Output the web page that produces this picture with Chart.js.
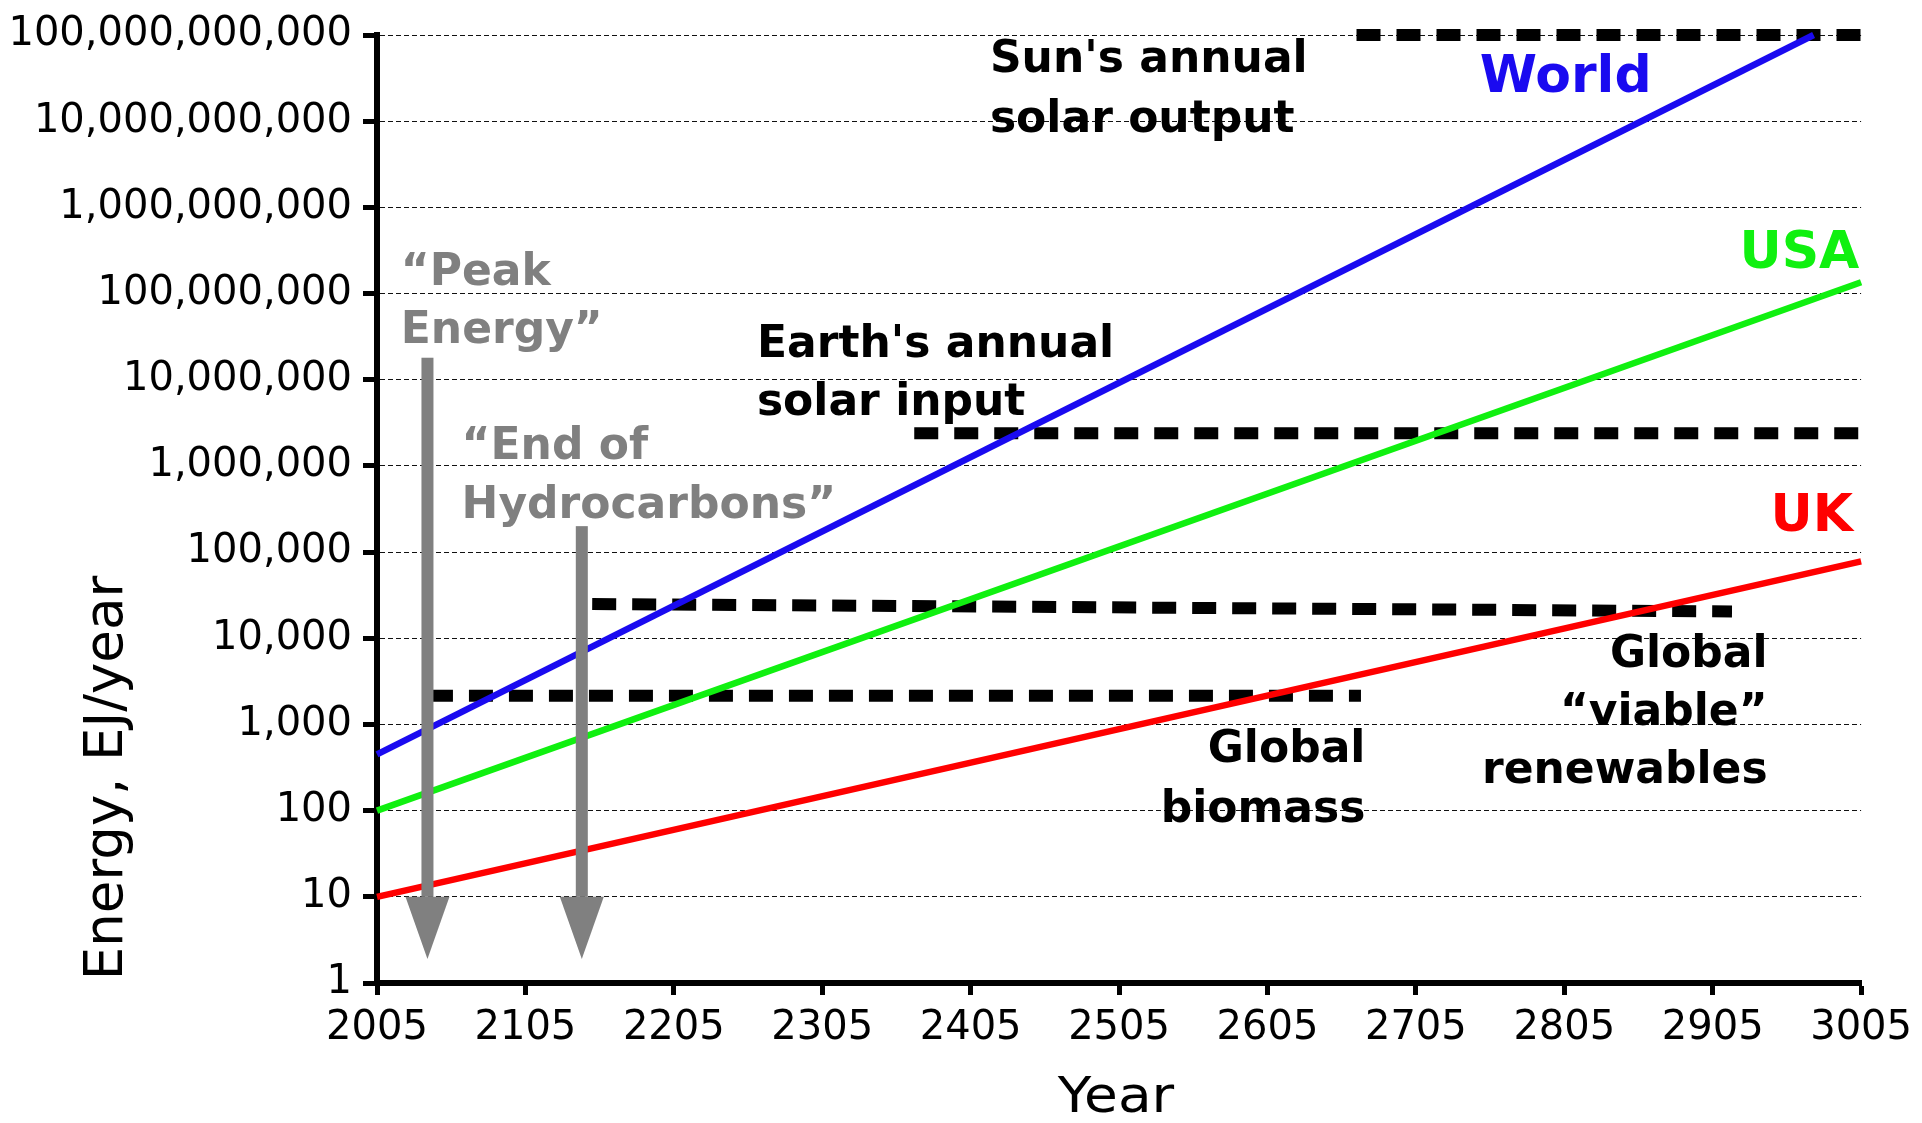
<!DOCTYPE html>
<html>
<head>
<meta charset="utf-8">
<title>Energy growth</title>
<script src="https://cdn.jsdelivr.net/npm/chart.js@4/dist/chart.umd.min.js"></script>
<style>
html, body { margin: 0; padding: 0; background: #fff; }
#grafico { display: block; }
</style>
</head>
<body>
<canvas id="grafico" width="1922" height="1123"></canvas>
<script>
// ======================================
// Energy use projections
// ======================================

// consumption lines (EJ/year)
const worldYears = [2005, 2973];
const worldEnergy = [450, 1e11];

const usaYears = [2005, 3005];
const usaEnergy = [100, 1.35e8];

const ukYears = [2005, 3005];
const ukEnergy = [10, 78000];

// reference levels (EJ/year)
const sunYears = [2665, 3005];
const sunOutput = [1e11, 1e11];

const earthYears = [2367, 3005];
const earthInput = [2.4e6, 2.4e6];

const renewYears = [2150, 2918];
const renewables = [25000, 20500];

const biomassYears = [2040, 2668];
const biomass = [2150, 2150];

// "Peak Energy" and "End of Hydrocarbons" arrows
const arrowYears = [2039, 2143];
const arrowFrom = [1.8e7, 2e5];
const arrowHead = [10, 10];
const arrowTip = [1.9, 1.9];

// axes
const xTicks = [2005, 2105, 2205, 2305, 2405, 2505, 2605, 2705, 2805, 2905, 3005];
const xTickLabels = ["2005", "2105", "2205", "2305", "2405", "2505", "2605", "2705", "2805", "2905", "3005"];
const yTicks = [1, 10, 100, 1e3, 1e4, 1e5, 1e6, 1e7, 1e8, 1e9, 1e10, 1e11];
const yTickLabels = [
"1",
"10",
"100",
"1,000",
"10,000",
"100,000",
"1,000,000",
"10,000,000",
"100,000,000",
"1,000,000,000",
"10,000,000,000",
"100,000,000,000"
];

function pontos(xs, ys) {
    return xs.map((x, i) => ({ x: x, y: ys[i] }));
}

// ======================================
// Text on the plot
// ======================================

const FONTE_NOTA = 'bold 44px "DejaVu Sans"';
const FONTE_SERIE = 'bold 52px "DejaVu Sans"';

const notas = [
{ linhas: ["Sun's annual", "solar output"], ano: 2418, valor: 3.7e10, alinhar: "left", cor: "#000", fonte: FONTE_NOTA, passo: 60 },
{ linhas: ["Earth's annual", "solar input"], ano: 2261, valor: 1.85e7, alinhar: "left", cor: "#000", fonte: FONTE_NOTA, passo: 58 },
{ linhas: ["Global", "biomass"], ano: 2671, valor: 370, alinhar: "right", cor: "#000", fonte: FONTE_NOTA, passo: 60 },
{ linhas: ["Global", "\u201cviable\u201d", "renewables"], ano: 2942, valor: 4600, alinhar: "right", cor: "#000", fonte: FONTE_NOTA, passo: 58 },
{ linhas: ["\u201cPeak", "Energy\u201d"], ano: 2021, valor: 1.25e8, alinhar: "left", cor: "#808080", fonte: FONTE_NOTA, passo: 58 },
{ linhas: ["\u201cEnd of", "Hydrocarbons\u201d"], ano: 2062, valor: 1.2e6, alinhar: "left", cor: "#808080", fonte: FONTE_NOTA, passo: 59 },
{ linhas: ["World"], ano: 2748, valor: 2.2e10, alinhar: "left", cor: "#1a0af0", fonte: FONTE_SERIE, passo: 0 },
{ linhas: ["USA"], ano: 2923, valor: 1.98e8, alinhar: "left", cor: "#10f010", fonte: FONTE_SERIE, passo: 0 },
{ linhas: ["UK"], ano: 2944, valor: 1.75e5, alinhar: "left", cor: "#ff0000", fonte: FONTE_SERIE, passo: 0 }
];

const anotacoes = {
    id: "anotacoes",
    afterDatasetsDraw(chart) {
        const ctx = chart.ctx;
        const x = chart.scales.x;
        const y = chart.scales.y;

        // gray arrows
        ctx.save();
        ctx.fillStyle = "#808080";
        arrowYears.forEach((ano, i) => {
            const px = x.getPixelForValue(ano);
            const topo = y.getPixelForValue(arrowFrom[i]);
            const base = y.getPixelForValue(arrowHead[i]);
            const ponta = y.getPixelForValue(arrowTip[i]);
            ctx.fillRect(px - 6, topo, 12, base - topo);
            ctx.beginPath();
            ctx.moveTo(px - 22, base);
            ctx.lineTo(px + 22, base);
            ctx.lineTo(px, ponta);
            ctx.closePath();
            ctx.fill();
        });
        ctx.restore();

        // labels
        ctx.save();
        ctx.textBaseline = "alphabetic";
        notas.forEach(n => {
            ctx.font = n.fonte;
            ctx.fillStyle = n.cor;
            ctx.textAlign = n.alinhar;
            const px = x.getPixelForValue(n.ano);
            const py = y.getPixelForValue(n.valor);
            n.linhas.forEach((t, i) => ctx.fillText(t, px, py + i * n.passo));
        });
        ctx.restore();
    },
    afterDraw(chart) {
        const ctx = chart.ctx;
        ctx.save();
        ctx.fillStyle = "#000";
        ctx.textAlign = "center";
        ctx.textBaseline = "alphabetic";

        // x title, a little wider than the font
        ctx.save();
        ctx.font = '50px "DejaVu Sans"';
        ctx.translate(1116, 1112);
        ctx.scale(1.1, 1);
        ctx.fillText("Year", 0, 0);
        ctx.restore();

        ctx.font = '53px "DejaVu Sans"';
        ctx.translate(122, 778);
        ctx.rotate(-Math.PI / 2);
        ctx.fillText("Energy, EJ/year", 0, 0);
        ctx.restore();
    }
};

// ======================================
// Chart
// ======================================

Chart.defaults.font.family = '"DejaVu Sans"';
Chart.defaults.color = "#000";

const grafico = document.getElementById("grafico");

const linha = (dados, cor) => ({
    data: dados,
    borderColor: cor,
    borderWidth: 6.5,
    pointRadius: 0,
    tension: 0,
    clip: false
});

const tracejado = (dados) => ({
    data: dados,
    borderColor: "#000",
    borderWidth: 12,
    borderDash: [24, 16],
    borderCapStyle: "butt",
    pointRadius: 0,
    tension: 0,
    clip: false
});

new Chart(grafico, {

type: "line",

data: {
    datasets: [
        linha(pontos(worldYears, worldEnergy), "#1a0af0"),
        linha(pontos(usaYears, usaEnergy), "#10f010"),
        linha(pontos(ukYears, ukEnergy), "#ff0000"),
        tracejado(pontos(sunYears, sunOutput)),
        tracejado(pontos(earthYears, earthInput)),
        tracejado(pontos(renewYears, renewables)),
        tracejado(pontos(biomassYears, biomass))
    ]
},

options: {
    responsive: false,
    animation: false,
    devicePixelRatio: 1,
    layout: {
        padding: { left: 0, top: 32, right: 55, bottom: 0 }
    },
    plugins: {
        legend: { display: false },
        tooltip: { enabled: false }
    },
    scales: {
        x: {
            type: "linear",
            min: 2005,
            max: 3005,
            afterBuildTicks: s => { s.ticks = xTicks.map(v => ({ value: v })); },
            afterFit: s => { s.height = 140; },
            ticks: {
                font: { size: 40 },
                color: "#000",
                padding: 10,
                maxRotation: 0,
                autoSkip: false,
                callback: (v, i) => xTickLabels[i]
            },
            grid: {
                drawOnChartArea: false,
                tickLength: 12,
                tickWidth: 5,
                tickColor: "#000"
            },
            border: { color: "#000", width: 6 }
        },
        y: {
            type: "logarithmic",
            min: 1,
            max: 1e11,
            afterBuildTicks: s => { s.ticks = yTicks.map(v => ({ value: v })); },
            afterFit: s => { s.width = 377; },
            ticks: {
                font: { size: 40 },
                color: "#000",
                padding: 11,
                autoSkip: false,
                callback: (v, i) => yTickLabels[i]
            },
            grid: {
                color: "#111",
                lineWidth: 1,
                tickLength: 14,
                tickWidth: 5,
                tickColor: "#000",
                tickBorderDash: []
            },
            border: { color: "#000", width: 6, dash: [5, 3] }
        }
    }
},

plugins: [anotacoes]

});
</script>
</body>
</html>
